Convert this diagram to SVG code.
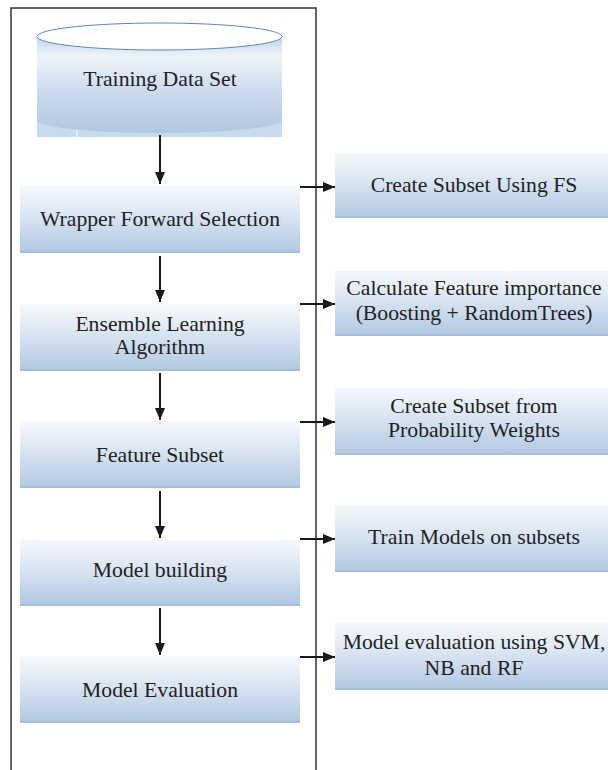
<svg xmlns="http://www.w3.org/2000/svg" width="608" height="770" viewBox="0 0 608 770">
  <defs>
    <linearGradient id="boxFill" x1="0" y1="0" x2="0" y2="1">
      <stop offset="0" stop-color="#f6f9fc"/>
      <stop offset="0.35" stop-color="#e0e9f4"/>
      <stop offset="1" stop-color="#b1c8e2"/>
    </linearGradient>
    <linearGradient id="cylFill" x1="0" y1="0" x2="0" y2="1">
      <stop offset="0" stop-color="#c2d5ea"/>
      <stop offset="0.2" stop-color="#eef3f9"/>
      <stop offset="0.55" stop-color="#cddcee"/>
      <stop offset="1" stop-color="#b0c7e1"/>
    </linearGradient>
    <marker id="arrow" viewBox="0 0 12 10" refX="12" refY="5" markerWidth="12" markerHeight="10" markerUnits="userSpaceOnUse" orient="auto">
      <path d="M0,0 L12,5 L0,10 Z" fill="#1a1a1a"/>
    </marker>
  </defs>
  <style>
    .box { fill: url(#boxFill); }
    .edge { stroke: #a6bedb; stroke-width: 2; }
    .label { font-family: 'Liberation Serif', serif; font-size: 21.7px; fill: #222; text-anchor: middle; }
    .conn { stroke: #1a1a1a; stroke-width: 2; fill: none; marker-end: url(#arrow); }
    .frame { stroke: #333; stroke-width: 1.5; fill: none; }
  </style>

  <rect width="608" height="770" fill="#ffffff"/>

  <!-- outer frame around the main pipeline -->
  <path class="frame" d="M11,772 V8 H316 V772"/>

  <!-- data source cylinder -->
  <g id="training-data">
    <rect x="37" y="37" width="245" height="100" fill="#c8daed"/>
    <line x1="77" y1="121" x2="77" y2="137" stroke="#eef3f9" stroke-width="1.5"/>
    <path d="M37,37 V120 A122.5,13 0 0 0 282,120 V37 Z" fill="url(#cylFill)"/>
    <ellipse cx="159.5" cy="36.5" rx="122.5" ry="13.5" fill="#ffffff" stroke="#5a86bf" stroke-width="1"/>
    <text class="label" x="160" y="86" style="font-family:'Liberation Serif',serif">Training Data Set</text>
  </g>

  <!-- main pipeline steps -->
  <g id="wrapper-forward">
    <rect class="box" x="20" y="186" width="280" height="67"/>
    <line class="edge" x1="20" y1="252" x2="300" y2="252"/>
    <text class="label" x="160" y="226" style="font-family:'Liberation Serif',serif">Wrapper Forward Selection</text>
  </g>
  <g id="ensemble-learning">
    <rect class="box" x="20" y="304" width="280" height="67"/>
    <line class="edge" x1="20" y1="370" x2="300" y2="370"/>
    <text class="label" x="160" y="331" style="font-family:'Liberation Serif',serif">Ensemble Learning</text>
    <text class="label" x="160" y="354" style="font-family:'Liberation Serif',serif">Algorithm</text>
  </g>
  <g id="feature-subset">
    <rect class="box" x="20" y="421" width="280" height="67"/>
    <line class="edge" x1="20" y1="487" x2="300" y2="487"/>
    <text class="label" x="160" y="462" style="font-family:'Liberation Serif',serif">Feature Subset</text>
  </g>
  <g id="model-building">
    <rect class="box" x="20" y="539" width="280" height="67"/>
    <line class="edge" x1="20" y1="605" x2="300" y2="605"/>
    <text class="label" x="160" y="577" style="font-family:'Liberation Serif',serif">Model building</text>
  </g>
  <g id="model-evaluation">
    <rect class="box" x="20" y="656" width="280" height="67"/>
    <line class="edge" x1="20" y1="722" x2="300" y2="722"/>
    <text class="label" x="160" y="697" style="font-family:'Liberation Serif',serif">Model Evaluation</text>
  </g>

  <!-- side notes -->
  <g id="subset-fs">
    <rect class="box" x="335" y="153" width="285" height="65"/>
    <line class="edge" x1="335" y1="217" x2="620" y2="217"/>
    <text class="label" x="474" y="192" style="font-family:'Liberation Serif',serif">Create Subset Using FS</text>
  </g>
  <g id="feature-importance">
    <rect class="box" x="335" y="270" width="285" height="66"/>
    <line class="edge" x1="335" y1="335" x2="620" y2="335"/>
    <text class="label" x="474" y="295" style="font-family:'Liberation Serif',serif">Calculate Feature importance</text>
    <text class="label" x="474" y="320" style="font-family:'Liberation Serif',serif">(Boosting + RandomTrees)</text>
  </g>
  <g id="probability-weights">
    <rect class="box" x="335" y="387" width="285" height="68"/>
    <line class="edge" x1="335" y1="454" x2="620" y2="454"/>
    <text class="label" x="474" y="413" style="font-family:'Liberation Serif',serif">Create Subset from</text>
    <text class="label" x="474" y="437" style="font-family:'Liberation Serif',serif">Probability Weights</text>
  </g>
  <g id="train-models">
    <rect class="box" x="335" y="505" width="285" height="67"/>
    <line class="edge" x1="335" y1="571" x2="620" y2="571"/>
    <text class="label" x="474" y="544" style="font-family:'Liberation Serif',serif">Train Models on subsets</text>
  </g>
  <g id="svm-nb-rf">
    <rect class="box" x="335" y="623" width="285" height="67"/>
    <line class="edge" x1="335" y1="689" x2="620" y2="689"/>
    <text class="label" x="474" y="649" style="font-family:'Liberation Serif',serif">Model evaluation using SVM,</text>
    <text class="label" x="474" y="675" style="font-family:'Liberation Serif',serif">NB and RF</text>
  </g>

  <!-- connectors -->
  <g id="connectors">
    <line class="conn" x1="160" y1="135" x2="160" y2="184"/>
    <line class="conn" x1="160" y1="256" x2="160" y2="302"/>
    <line class="conn" x1="160" y1="373" x2="160" y2="420"/>
    <line class="conn" x1="160" y1="491" x2="160" y2="538"/>
    <line class="conn" x1="160" y1="608" x2="160" y2="655"/>

    <line class="conn" x1="300" y1="187" x2="335" y2="187"/>
    <line class="conn" x1="300" y1="304" x2="335" y2="304"/>
    <line class="conn" x1="300" y1="422" x2="335" y2="422"/>
    <line class="conn" x1="300" y1="539" x2="335" y2="539"/>
    <line class="conn" x1="300" y1="657" x2="335" y2="657"/>
  </g>
</svg>
